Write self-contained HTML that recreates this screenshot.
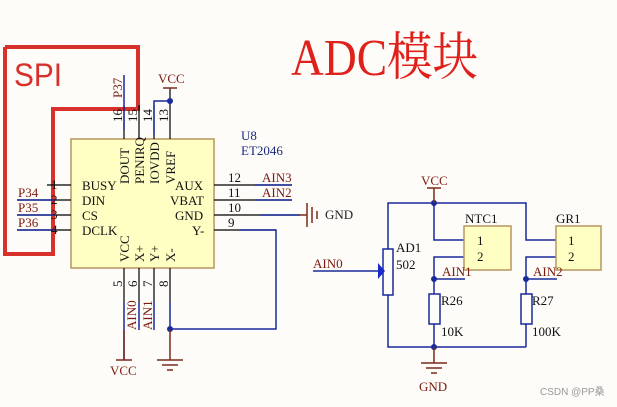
<!DOCTYPE html>
<html><head><meta charset="utf-8"><style>
html,body{margin:0;padding:0;background:#fdfcf9;}
svg{display:block;}
text{font-family:"Liberation Serif","Noto Serif CJK SC",serif;}
</style></head><body>
<svg width="617" height="407" viewBox="0 0 617 407" xmlns="http://www.w3.org/2000/svg">
<rect width="617" height="407" fill="#fdfcf9"/>
<text x="291" y="75" font-size="52" fill="#e0201a" textLength="187" lengthAdjust="spacingAndGlyphs">ADC模块</text>
<polyline points="5,47 138,47 138,109 53,109 53,254 5,254 5,47" fill="none" stroke="#d8302a" stroke-width="4"/>
<text x="14" y="86" font-size="32" fill="#d8302a" style="font-family:'Liberation Sans',sans-serif" textLength="48" lengthAdjust="spacingAndGlyphs">SPI</text>
<rect x="71" y="139" width="143" height="129" fill="#ffffc4" stroke="#b8955e" stroke-width="1.5"/>
<g stroke="#000" stroke-width="1.2">
<line x1="124" y1="105" x2="124" y2="139"/><line x1="139" y1="105" x2="139" y2="139"/>
<line x1="154" y1="105" x2="154" y2="139"/><line x1="170" y1="88" x2="170" y2="139"/>
<line x1="47" y1="185" x2="71" y2="185"/><line x1="17" y1="200" x2="71" y2="200"/>
<line x1="17" y1="215" x2="71" y2="215"/><line x1="17" y1="230" x2="71" y2="230"/>
<line x1="214" y1="185" x2="292" y2="185"/><line x1="214" y1="200" x2="292" y2="200"/>
<line x1="214" y1="215" x2="300" y2="215"/><line x1="214" y1="230" x2="276" y2="230"/>
<line x1="124" y1="268" x2="124" y2="302"/><line x1="139" y1="268" x2="139" y2="302"/>
<line x1="154" y1="268" x2="154" y2="302"/><line x1="170" y1="268" x2="170" y2="302"/>
</g>
<g stroke="#1a2a9a" stroke-width="1.5" fill="none">
<line x1="124" y1="75" x2="124" y2="130"/>
<polyline points="154,135 154,101 170,101"/>
<line x1="17" y1="200" x2="55" y2="200"/><line x1="17" y1="215" x2="55" y2="215"/><line x1="17" y1="230" x2="55" y2="230"/>
<line x1="255" y1="185" x2="292" y2="185"/><line x1="255" y1="200" x2="292" y2="200"/>
<line x1="260" y1="215" x2="300" y2="215"/>
<polyline points="240,230 276,230 276,329 170,329"/>
<line x1="124" y1="302" x2="124" y2="360"/>
<line x1="139" y1="302" x2="139" y2="330"/><line x1="154" y1="302" x2="154" y2="330"/>
<line x1="170" y1="302" x2="170" y2="330"/>
</g>
<circle cx="170" cy="101" r="3" fill="#1a2a9a"/>
<circle cx="170" cy="329" r="3" fill="#1a2a9a"/>
<g stroke="#7a2a1a" stroke-width="1.5">
<line x1="163" y1="88" x2="177" y2="88"/>
<line x1="124" y1="330" x2="124" y2="360"/><line x1="116" y1="360" x2="132" y2="360"/>
<line x1="170" y1="330" x2="170" y2="360"/>
<line x1="157" y1="360" x2="183" y2="360"/><line x1="162" y1="365" x2="178" y2="365"/><line x1="167" y1="370" x2="173" y2="370"/>
<line x1="300" y1="215" x2="307" y2="215"/>
<line x1="307" y1="203" x2="307" y2="227"/><line x1="312" y1="207" x2="312" y2="223"/><line x1="317" y1="211" x2="317" y2="219"/>
</g>
<g font-size="13" fill="#7a1a10">
<text x="158" y="83">VCC</text>
<text x="110" y="375">VCC</text>
<text x="325" y="219" fill="#222">GND</text>
<text x="18" y="197">P34</text><text x="18" y="212">P35</text><text x="18" y="227">P36</text>
<text x="262" y="182">AIN3</text><text x="262" y="197">AIN2</text>
<text transform="translate(122,98) rotate(-90)">P37</text>
<text transform="translate(136,330) rotate(-90)">AIN0</text>
<text transform="translate(152,330) rotate(-90)">AIN1</text>
</g>
<g font-size="13" fill="#111">
<text x="51" y="189">1</text><text x="51" y="204">2</text><text x="51" y="219">3</text><text x="51" y="234">4</text>
<text x="228" y="182">12</text><text x="228" y="197">11</text><text x="228" y="212">10</text><text x="228" y="227">9</text>
<text x="82" y="190">BUSY</text><text x="82" y="205">DIN</text><text x="82" y="220">CS</text><text x="82" y="235">DCLK</text>
<text x="175" y="190">AUX</text><text x="170" y="205">VBAT</text><text x="175" y="220">GND</text><text x="192" y="235">Y-</text>
<text transform="translate(122,122) rotate(-90)">16</text><text transform="translate(137,122) rotate(-90)">15</text>
<text transform="translate(152,122) rotate(-90)">14</text><text transform="translate(168,122) rotate(-90)">13</text>
<text transform="translate(129,184) rotate(-90)">DOUT</text><text transform="translate(144,184) rotate(-90)">PENIRQ</text>
<text transform="translate(159,184) rotate(-90)">IOVDD</text><text transform="translate(175,184) rotate(-90)">VREF</text>
<text transform="translate(129,262) rotate(-90)">VCC</text><text transform="translate(144,262) rotate(-90)">X+</text>
<text transform="translate(159,262) rotate(-90)">Y+</text><text transform="translate(175,262) rotate(-90)">X-</text>
<text transform="translate(122,287) rotate(-90)">5</text><text transform="translate(137,287) rotate(-90)">6</text>
<text transform="translate(152,287) rotate(-90)">7</text><text transform="translate(168,287) rotate(-90)">8</text>
</g>
<text x="241" y="140" font-size="13" fill="#1a2a7a">U8</text>
<text x="241" y="155" font-size="13" fill="#1a2a7a">ET2046</text>
<g stroke="#1a2a9a" stroke-width="1.5" fill="none">
<polyline points="388,249 388,203 526,203 526,240 556,240"/>
<polyline points="434,203 434,240 464,240"/>
<polyline points="464,257 434,257 434,294"/>
<polyline points="556,257 526,257 526,294"/>
<line x1="434" y1="324" x2="434" y2="347"/><line x1="526" y1="324" x2="526" y2="347"/>
<polyline points="388,295 388,347 526,347"/>
<line x1="434" y1="279" x2="465" y2="279"/><line x1="526" y1="279" x2="557" y2="279"/>
<line x1="313" y1="271" x2="378" y2="271"/>
<rect x="383" y="249" width="10" height="46"/>
<rect x="429" y="294" width="11" height="30"/>
<rect x="521" y="294" width="11" height="30"/>
</g>
<polygon points="378,263 385,271 378,279" fill="#1a2aca"/>
<rect x="464" y="226" width="47" height="44" fill="#ffffc4" stroke="#b8955e" stroke-width="1.5"/>
<rect x="556" y="226" width="45" height="44" fill="#ffffc4" stroke="#b8955e" stroke-width="1.5"/>
<circle cx="434" cy="203" r="3" fill="#1a2a9a"/><circle cx="434" cy="279" r="3" fill="#1a2a9a"/>
<circle cx="526" cy="279" r="3" fill="#1a2a9a"/><circle cx="434" cy="347" r="3" fill="#1a2a9a"/>
<g stroke="#7a2a1a" stroke-width="1.5">
<line x1="434" y1="188" x2="434" y2="203"/><line x1="427" y1="188" x2="441" y2="188"/>
<line x1="434" y1="347" x2="434" y2="363"/>
<line x1="421" y1="363" x2="447" y2="363"/><line x1="426" y1="368" x2="442" y2="368"/><line x1="431" y1="373" x2="437" y2="373"/>
</g>
<g font-size="13" fill="#111">
<text x="421" y="185" fill="#7a1a10">VCC</text>
<text x="419" y="391" fill="#7a1a10">GND</text>
<text x="465" y="223">NTC1</text><text x="556" y="223">GR1</text>
<text x="477" y="245">1</text><text x="477" y="261">2</text>
<text x="568" y="245">1</text><text x="568" y="261">2</text>
<text x="396" y="252">AD1</text><text x="396" y="269">502</text>
<text x="441" y="305">R26</text><text x="441" y="336">10K</text>
<text x="532" y="305">R27</text><text x="532" y="336">100K</text>
<text x="442" y="276" fill="#7a1a10">AIN1</text><text x="533" y="276" fill="#7a1a10">AIN2</text>
<text x="313" y="268" fill="#7a1a10">AIN0</text>
</g>
<text x="540" y="395" font-size="10" fill="#999" style="font-family:'Liberation Sans','Noto Sans CJK SC',sans-serif">CSDN @PP桑</text>
</svg>
</body></html>
